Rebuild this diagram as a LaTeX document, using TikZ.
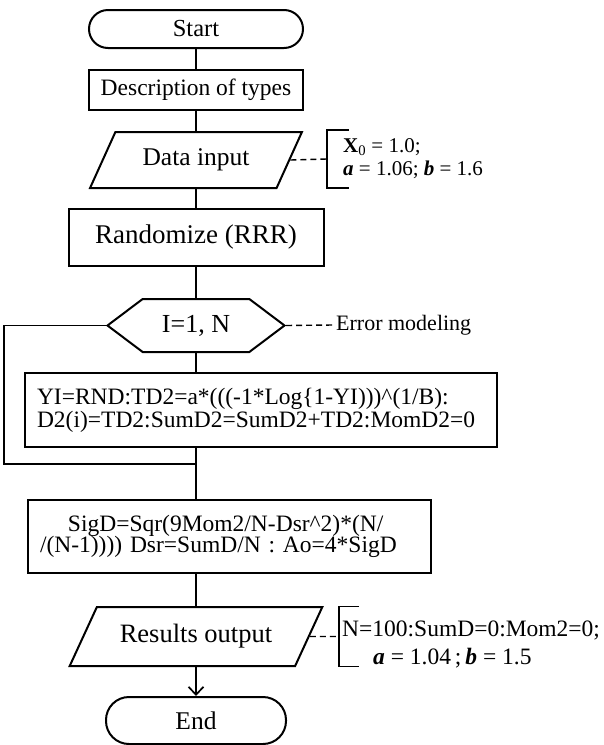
\documentclass[tikz,border=0pt]{standalone}
\usepackage{fontspec}
\setmainfont{Liberation Serif}
\usetikzlibrary{shapes.geometric, shapes.symbols}
\usetikzlibrary{arrows.meta}
\tikzstyle{flowline} = [line width=1.7pt]
\tikzstyle{termbox} = [draw=black, line width=2pt, rectangle,
    rounded corners=19pt, inner sep=0pt, font=\fontsize{24.5}{24.5}\selectfont]
\tikzstyle{procbox} = [draw=black, line width=2pt, rectangle,
    inner sep=0pt, font=\fontsize{23.5}{23}\selectfont]
\tikzstyle{iobox} = [draw=black, line width=2pt, trapezium,
    trapezium stretches=true, inner sep=0pt, font=\fontsize{25.5}{25.5}\selectfont]
\tikzstyle{loopbox} = [draw=black, line width=2pt, signal,
    signal to=west and east, signal pointer angle=74, inner sep=0pt,
    font=\fontsize{26}{26}\selectfont]
\tikzstyle{notetext} = [inner sep=3pt, align=left]
\tikzstyle{noteline} = [line width=1.4pt, dash pattern=on 6pt off 4pt]

\begin{document}
\begin{tikzpicture}[x=1pt, y=-1pt]
\useasboundingbox (0,0) rectangle (603,745);

\node[termbox, minimum width=214pt, minimum height=38pt] (start) at (196,29) {Start};
\node[procbox, minimum width=214pt, minimum height=40pt] (types) at (196,90) {Description of types};
\node[iobox, trapezium left angle=53, trapezium right angle=127,
    minimum width=212pt, minimum height=56pt] (data) at (196,160) {Data input};
\node[procbox, minimum width=255pt, minimum height=57pt,
    font=\fontsize{27}{27}\selectfont] (rand) at (196,237.5) {Randomize (RRR)};
\node[loopbox, minimum width=177pt, minimum height=53pt] (hex) at (196,325.5) {I=1, N};
\node[procbox, minimum width=472pt, minimum height=74pt, text width=448pt,
    inner xsep=12pt, align=left] (yi) at (261,410) {YI=RND:TD2=a*(((-1*Log\{1-YI)))\textasciicircum(1/B):\\
D2(i)=TD2:SumD2=SumD2+TD2:MomD2=0};
\node[procbox, minimum width=403pt, minimum height=73pt, text width=379pt,
    inner xsep=12pt, align=left, font=\fontsize{23.5}{21.5}\selectfont] (sigd) at (229.5,536.5)
    {\hspace*{28pt}SigD=Sqr(9Mom2/N-Dsr\textasciicircum2)*(N/\\
/(N-1)))) Dsr=SumD/N : Ao=4*SigD};
\node[iobox, trapezium left angle=49, trapezium right angle=131,
    minimum width=253pt, minimum height=59pt, font=\fontsize{26.5}{26.5}\selectfont] (results) at (196,636.5) {Results output};
\node[termbox, rounded corners=23pt, minimum width=180pt, minimum height=47pt,
    font=\fontsize{25.5}{25.5}\selectfont] (finish) at (196,720.5) {End};

\draw[flowline] (start) -- (types);
\draw[flowline] (types) -- (data);
\draw[flowline] (data) -- (rand);
\draw[flowline] (rand) -- (hex);
\draw[flowline] (hex) -- (hex |- yi.north);
\draw[flowline] (hex |- yi.south) -- (hex |- sigd.north);
\draw[flowline] (hex |- sigd.south) -- (results);
\draw[flowline, -{Straight Barb[length=8pt, width=15pt]}] (results) -- (finish);

\coordinate (loopend) at (196,464);
\draw[flowline] (hex.west) -- ++(-102,0) |- (loopend);

\node[notetext, anchor=west, font=\fontsize{21}{23}\selectfont] (datanote) at (340,158.5)
    {\textbf{X}\textsubscript{0} = 1.0;\\ \textbf{\textit{a}} = 1.06; \textbf{\textit{b}} = 1.6};
\coordinate (databr) at (327,159);
\draw[noteline] (data.east) -- (databr);
\draw[flowline] ([shift={(22,-29)}]databr) -- ++(-22,0) -- ++(0,58) -- ++(22,0);

\node[notetext, anchor=west, font=\fontsize{22}{22}\selectfont] (errnote) at (333,325) {Error modeling};
\draw[noteline] (hex.east) -- (errnote.west);

\node[notetext, anchor=west, font=\fontsize{23.5}{28}\selectfont] (resnote) at (339,644)
    {N=100:SumD=0:Mom2=0;\\ \hspace*{31pt}\textbf{\textit{a}} = 1.04\,;\,\textbf{\textit{b}} = 1.5};
\coordinate (resbr) at (339,636.5);
\draw[noteline] (results.east) -- (resbr);
\draw[flowline] ([shift={(20,-30)}]resbr) -- ++(-20,0) -- ++(0,60) -- ++(20,0);
\end{tikzpicture}
\end{document}
